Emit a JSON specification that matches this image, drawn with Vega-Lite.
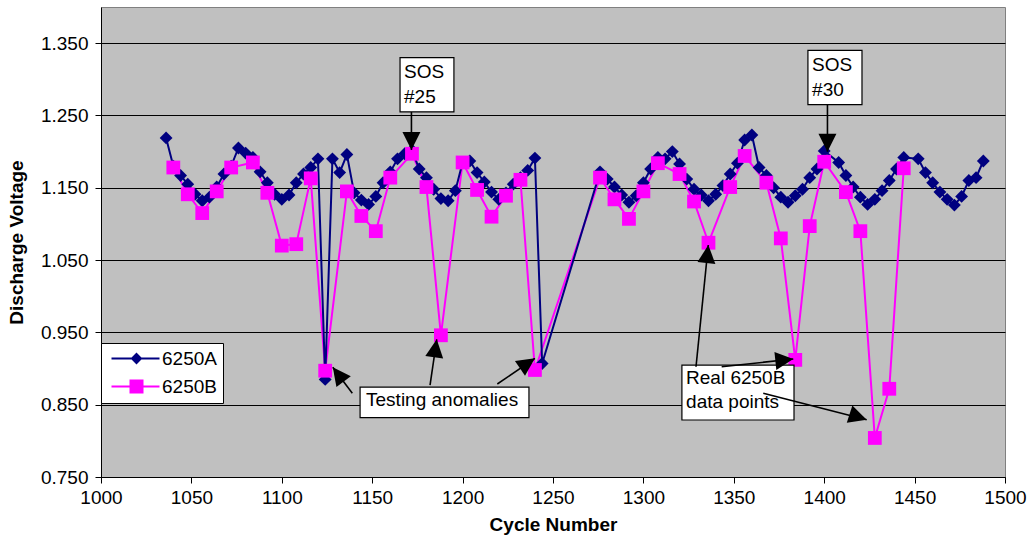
{
  "$schema": "https://vega.github.io/schema/vega-lite/v6.json",
  "width": 904,
  "height": 470,
  "autosize": {"type": "none"},
  "padding": {"left": 101, "top": 7, "right": 25, "bottom": 65},
  "background": "white",
  "config": {
    "font": "Liberation Sans",
    "view": {"fill": "#C0C0C0", "stroke": "#808080", "strokeWidth": 1},
    "axis": {
      "labelFont": "Liberation Sans",
      "titleFont": "Liberation Sans",
      "labelColor": "black",
      "titleColor": "black",
      "domainColor": "black",
      "tickColor": "black",
      "labelFontSize": 19,
      "titleFontSize": 19,
      "titleFontWeight": "bold",
      "tickSize": 6,
      "domainWidth": 1,
      "tickWidth": 1,
      "labelFlush": false
    }
  },
  "datasets": {
    "cells": [
      {"cycle": 1036, "series": "6250A", "voltage": 1.219},
      {"cycle": 1040, "series": "6250A", "voltage": 1.180},
      {"cycle": 1044, "series": "6250A", "voltage": 1.167},
      {"cycle": 1048, "series": "6250A", "voltage": 1.155},
      {"cycle": 1052, "series": "6250A", "voltage": 1.141},
      {"cycle": 1056, "series": "6250A", "voltage": 1.132},
      {"cycle": 1060, "series": "6250A", "voltage": 1.137},
      {"cycle": 1064, "series": "6250A", "voltage": 1.151},
      {"cycle": 1068, "series": "6250A", "voltage": 1.169},
      {"cycle": 1072, "series": "6250A", "voltage": 1.180},
      {"cycle": 1076, "series": "6250A", "voltage": 1.205},
      {"cycle": 1080, "series": "6250A", "voltage": 1.198},
      {"cycle": 1084, "series": "6250A", "voltage": 1.192},
      {"cycle": 1088, "series": "6250A", "voltage": 1.172},
      {"cycle": 1092, "series": "6250A", "voltage": 1.157},
      {"cycle": 1096, "series": "6250A", "voltage": 1.141},
      {"cycle": 1100, "series": "6250A", "voltage": 1.134},
      {"cycle": 1104, "series": "6250A", "voltage": 1.140},
      {"cycle": 1108, "series": "6250A", "voltage": 1.157},
      {"cycle": 1112, "series": "6250A", "voltage": 1.169},
      {"cycle": 1116, "series": "6250A", "voltage": 1.178},
      {"cycle": 1120, "series": "6250A", "voltage": 1.190},
      {"cycle": 1124, "series": "6250A", "voltage": 0.885},
      {"cycle": 1128, "series": "6250A", "voltage": 1.190},
      {"cycle": 1132, "series": "6250A", "voltage": 1.171},
      {"cycle": 1136, "series": "6250A", "voltage": 1.196},
      {"cycle": 1140, "series": "6250A", "voltage": 1.143},
      {"cycle": 1144, "series": "6250A", "voltage": 1.133},
      {"cycle": 1148, "series": "6250A", "voltage": 1.127},
      {"cycle": 1152, "series": "6250A", "voltage": 1.138},
      {"cycle": 1156, "series": "6250A", "voltage": 1.157},
      {"cycle": 1160, "series": "6250A", "voltage": 1.172},
      {"cycle": 1164, "series": "6250A", "voltage": 1.190},
      {"cycle": 1168, "series": "6250A", "voltage": 1.197},
      {"cycle": 1172, "series": "6250A", "voltage": 1.202},
      {"cycle": 1176, "series": "6250A", "voltage": 1.176},
      {"cycle": 1180, "series": "6250A", "voltage": 1.164},
      {"cycle": 1184, "series": "6250A", "voltage": 1.148},
      {"cycle": 1188, "series": "6250A", "voltage": 1.135},
      {"cycle": 1192, "series": "6250A", "voltage": 1.132},
      {"cycle": 1196, "series": "6250A", "voltage": 1.146},
      {"cycle": 1200, "series": "6250A", "voltage": 1.185},
      {"cycle": 1204, "series": "6250A", "voltage": 1.187},
      {"cycle": 1208, "series": "6250A", "voltage": 1.171},
      {"cycle": 1212, "series": "6250A", "voltage": 1.158},
      {"cycle": 1216, "series": "6250A", "voltage": 1.144},
      {"cycle": 1220, "series": "6250A", "voltage": 1.134},
      {"cycle": 1224, "series": "6250A", "voltage": 1.143},
      {"cycle": 1228, "series": "6250A", "voltage": 1.155},
      {"cycle": 1232, "series": "6250A", "voltage": 1.164},
      {"cycle": 1236, "series": "6250A", "voltage": 1.174},
      {"cycle": 1240, "series": "6250A", "voltage": 1.191},
      {"cycle": 1244, "series": "6250A", "voltage": 0.907},
      {"cycle": 1276, "series": "6250A", "voltage": 1.172},
      {"cycle": 1280, "series": "6250A", "voltage": 1.162},
      {"cycle": 1284, "series": "6250A", "voltage": 1.151},
      {"cycle": 1288, "series": "6250A", "voltage": 1.140},
      {"cycle": 1292, "series": "6250A", "voltage": 1.130},
      {"cycle": 1296, "series": "6250A", "voltage": 1.139},
      {"cycle": 1300, "series": "6250A", "voltage": 1.157},
      {"cycle": 1304, "series": "6250A", "voltage": 1.176},
      {"cycle": 1308, "series": "6250A", "voltage": 1.192},
      {"cycle": 1312, "series": "6250A", "voltage": 1.190},
      {"cycle": 1316, "series": "6250A", "voltage": 1.200},
      {"cycle": 1320, "series": "6250A", "voltage": 1.183},
      {"cycle": 1324, "series": "6250A", "voltage": 1.162},
      {"cycle": 1328, "series": "6250A", "voltage": 1.148},
      {"cycle": 1332, "series": "6250A", "voltage": 1.140},
      {"cycle": 1336, "series": "6250A", "voltage": 1.132},
      {"cycle": 1340, "series": "6250A", "voltage": 1.141},
      {"cycle": 1344, "series": "6250A", "voltage": 1.153},
      {"cycle": 1348, "series": "6250A", "voltage": 1.169},
      {"cycle": 1352, "series": "6250A", "voltage": 1.184},
      {"cycle": 1356, "series": "6250A", "voltage": 1.216},
      {"cycle": 1360, "series": "6250A", "voltage": 1.223},
      {"cycle": 1364, "series": "6250A", "voltage": 1.178},
      {"cycle": 1368, "series": "6250A", "voltage": 1.167},
      {"cycle": 1372, "series": "6250A", "voltage": 1.150},
      {"cycle": 1376, "series": "6250A", "voltage": 1.137},
      {"cycle": 1380, "series": "6250A", "voltage": 1.130},
      {"cycle": 1384, "series": "6250A", "voltage": 1.139},
      {"cycle": 1388, "series": "6250A", "voltage": 1.148},
      {"cycle": 1392, "series": "6250A", "voltage": 1.164},
      {"cycle": 1396, "series": "6250A", "voltage": 1.176},
      {"cycle": 1400, "series": "6250A", "voltage": 1.201},
      {"cycle": 1408, "series": "6250A", "voltage": 1.185},
      {"cycle": 1412, "series": "6250A", "voltage": 1.167},
      {"cycle": 1416, "series": "6250A", "voltage": 1.151},
      {"cycle": 1420, "series": "6250A", "voltage": 1.137},
      {"cycle": 1424, "series": "6250A", "voltage": 1.127},
      {"cycle": 1428, "series": "6250A", "voltage": 1.134},
      {"cycle": 1432, "series": "6250A", "voltage": 1.146},
      {"cycle": 1436, "series": "6250A", "voltage": 1.160},
      {"cycle": 1440, "series": "6250A", "voltage": 1.176},
      {"cycle": 1444, "series": "6250A", "voltage": 1.192},
      {"cycle": 1452, "series": "6250A", "voltage": 1.190},
      {"cycle": 1456, "series": "6250A", "voltage": 1.171},
      {"cycle": 1460, "series": "6250A", "voltage": 1.157},
      {"cycle": 1464, "series": "6250A", "voltage": 1.144},
      {"cycle": 1468, "series": "6250A", "voltage": 1.134},
      {"cycle": 1472, "series": "6250A", "voltage": 1.126},
      {"cycle": 1476, "series": "6250A", "voltage": 1.138},
      {"cycle": 1480, "series": "6250A", "voltage": 1.160},
      {"cycle": 1484, "series": "6250A", "voltage": 1.164},
      {"cycle": 1488, "series": "6250A", "voltage": 1.187},
      {"cycle": 1040, "series": "6250B", "voltage": 1.178},
      {"cycle": 1048, "series": "6250B", "voltage": 1.141},
      {"cycle": 1056, "series": "6250B", "voltage": 1.115},
      {"cycle": 1064, "series": "6250B", "voltage": 1.145},
      {"cycle": 1072, "series": "6250B", "voltage": 1.178},
      {"cycle": 1084, "series": "6250B", "voltage": 1.185},
      {"cycle": 1092, "series": "6250B", "voltage": 1.143},
      {"cycle": 1100, "series": "6250B", "voltage": 1.070},
      {"cycle": 1108, "series": "6250B", "voltage": 1.072},
      {"cycle": 1116, "series": "6250B", "voltage": 1.163},
      {"cycle": 1124, "series": "6250B", "voltage": 0.897},
      {"cycle": 1136, "series": "6250B", "voltage": 1.145},
      {"cycle": 1144, "series": "6250B", "voltage": 1.111},
      {"cycle": 1152, "series": "6250B", "voltage": 1.090},
      {"cycle": 1160, "series": "6250B", "voltage": 1.164},
      {"cycle": 1172, "series": "6250B", "voltage": 1.197},
      {"cycle": 1180, "series": "6250B", "voltage": 1.151},
      {"cycle": 1188, "series": "6250B", "voltage": 0.946},
      {"cycle": 1200, "series": "6250B", "voltage": 1.185},
      {"cycle": 1208, "series": "6250B", "voltage": 1.147},
      {"cycle": 1216, "series": "6250B", "voltage": 1.110},
      {"cycle": 1224, "series": "6250B", "voltage": 1.139},
      {"cycle": 1232, "series": "6250B", "voltage": 1.161},
      {"cycle": 1240, "series": "6250B", "voltage": 0.898},
      {"cycle": 1276, "series": "6250B", "voltage": 1.164},
      {"cycle": 1284, "series": "6250B", "voltage": 1.134},
      {"cycle": 1292, "series": "6250B", "voltage": 1.107},
      {"cycle": 1300, "series": "6250B", "voltage": 1.145},
      {"cycle": 1308, "series": "6250B", "voltage": 1.184},
      {"cycle": 1320, "series": "6250B", "voltage": 1.169},
      {"cycle": 1328, "series": "6250B", "voltage": 1.131},
      {"cycle": 1336, "series": "6250B", "voltage": 1.074},
      {"cycle": 1348, "series": "6250B", "voltage": 1.151},
      {"cycle": 1356, "series": "6250B", "voltage": 1.194},
      {"cycle": 1368, "series": "6250B", "voltage": 1.157},
      {"cycle": 1376, "series": "6250B", "voltage": 1.080},
      {"cycle": 1384, "series": "6250B", "voltage": 0.912},
      {"cycle": 1392, "series": "6250B", "voltage": 1.097},
      {"cycle": 1400, "series": "6250B", "voltage": 1.186},
      {"cycle": 1412, "series": "6250B", "voltage": 1.144},
      {"cycle": 1420, "series": "6250B", "voltage": 1.090},
      {"cycle": 1428, "series": "6250B", "voltage": 0.804},
      {"cycle": 1436, "series": "6250B", "voltage": 0.872},
      {"cycle": 1444, "series": "6250B", "voltage": 1.177}
    ],
    "boxes": [
      {"name": "sos25", "x": 1165.4, "x2": 1195.2, "y": 1.330, "y2": 1.255},
      {"name": "sos30", "x": 1391.0, "x2": 1420.9, "y": 1.340, "y2": 1.265},
      {"name": "testing", "x": 1143.3, "x2": 1236.7, "y": 0.8744, "y2": 0.8322},
      {"name": "real", "x": 1321.3, "x2": 1383.3, "y": 0.9048, "y2": 0.8288}
    ],
    "notes": [
      {"x": 1167.6, "y": 1.3101, "label": "SOS"},
      {"x": 1167.6, "y": 1.2755, "label": "#25"},
      {"x": 1393.3, "y": 1.3198, "label": "SOS"},
      {"x": 1393.3, "y": 1.2852, "label": "#30"},
      {"x": 1146.6, "y": 0.8564, "label": "Testing anomalies"},
      {"x": 1323.6, "y": 0.8869, "label": "Real 6250B"},
      {"x": 1323.6, "y": 0.8544, "label": "data points"}
    ],
    "arrows": [
      {"x": 1171.7, "y": 1.2548, "x2": 1171.7, "y2": 1.2022, "heading": 180},
      {"x": 1401.8, "y": 1.2645, "x2": 1401.8, "y2": 1.1999, "heading": 180},
      {"x": 1139.0, "y": 0.8657, "x2": 1128.2, "y2": 0.9017, "heading": 323},
      {"x": 1182.0, "y": 0.8772, "x2": 1185.7, "y2": 0.9404, "heading": 8},
      {"x": 1219.2, "y": 0.8786, "x2": 1240.0, "y2": 0.9141, "heading": 56},
      {"x": 1329.1, "y": 0.9025, "x2": 1335.9, "y2": 1.0708, "heading": 6},
      {"x": 1343.3, "y": 0.9025, "x2": 1382.9, "y2": 0.9131, "heading": 84},
      {"x": 1366.3, "y": 0.8657, "x2": 1423.5, "y2": 0.8292, "heading": 108}
    ]
  },
  "encoding": {
    "x": {
      "field": "cycle",
      "type": "quantitative",
      "scale": {"domain": [1000, 1500], "nice": false, "zero": false},
      "axis": {
        "values": [1000, 1050, 1100, 1150, 1200, 1250, 1300, 1350, 1400, 1450, 1500],
        "format": "d",
        "grid": false,
        "title": "Cycle Number",
        "labelPadding": 5,
        "titlePadding": 8
      }
    },
    "y": {
      "field": "voltage",
      "type": "quantitative",
      "scale": {"domain": [0.75, 1.4], "nice": false, "zero": false},
      "axis": {
        "values": [0.75, 0.85, 0.95, 1.05, 1.15, 1.25, 1.35],
        "format": ".3f",
        "grid": true,
        "gridColor": "black",
        "gridWidth": 1,
        "gridOpacity": 1,
        "title": "Discharge Voltage",
        "labelPadding": 7,
        "titlePadding": 14
      }
    }
  },
  "layer": [
    {
      "data": {"name": "cells"},
      "transform": [{"filter": "datum.series === '6250B'"}],
      "mark": {"type": "line", "strokeWidth": 2},
      "encoding": {
        "color": {
          "field": "series",
          "type": "nominal",
          "scale": {"domain": ["6250A", "6250B"], "range": ["#000080", "#FF00FF"]},
          "legend": {
            "title": null,
            "orient": "none",
            "legendX": 0,
            "legendY": 336,
            "fillColor": "white",
            "strokeColor": "black",
            "padding": 6,
            "rowPadding": 7,
            "symbolSize": 100,
            "labelFontSize": 19,
            "labelFont": "Liberation Sans",
            "labelColor": "black",
            "labelOffset": 36,
            "encode": {
              "symbols": {
                "update": {
                  "shape": {"signal": "datum.value === '6250A' ? 'M-1,0H8.6M4,-0.9L4.9,0L4,0.9L3.1,0Z' : 'M-1,0H8.6M2.8,-1.2H5.2V1.2H2.8Z'"},
                  "fill": {"signal": "datum.value === '6250A' ? '#000080' : '#FF00FF'"},
                  "stroke": {"signal": "datum.value === '6250A' ? '#000080' : '#FF00FF'"},
                  "strokeWidth": {"value": 2},
                  "size": {"value": 100},
                  "opacity": {"value": 1}
                }
              }
            }
          }
        }
      }
    },
    {
      "data": {"name": "cells"},
      "transform": [{"filter": "datum.series === '6250A'"}],
      "mark": {"type": "line", "strokeWidth": 2},
      "encoding": {
        "color": {"field": "series", "type": "nominal"}
      }
    },
    {
      "data": {"name": "cells"},
      "transform": [{"filter": "datum.series === '6250A'"}],
      "mark": {"type": "point", "shape": "diamond", "filled": true, "size": 165, "opacity": 1},
      "encoding": {
        "color": {"field": "series", "type": "nominal"}
      }
    },
    {
      "data": {"name": "cells"},
      "transform": [{"filter": "datum.series === '6250B'"}],
      "mark": {"type": "point", "shape": "square", "filled": true, "size": 190, "opacity": 1},
      "encoding": {
        "color": {"field": "series", "type": "nominal"}
      }
    },
    {
      "data": {"name": "boxes"},
      "mark": {"type": "rect", "fill": "white", "stroke": "black", "strokeWidth": 1.2},
      "encoding": {
        "x": {"field": "x", "type": "quantitative"},
        "x2": {"field": "x2"},
        "y": {"field": "y", "type": "quantitative"},
        "y2": {"field": "y2"}
      }
    },
    {
      "data": {"name": "notes"},
      "mark": {"type": "text", "align": "left", "baseline": "middle", "fontSize": 19, "font": "Liberation Sans", "color": "black"},
      "encoding": {
        "x": {"field": "x", "type": "quantitative"},
        "y": {"field": "y", "type": "quantitative"},
        "text": {"field": "label"}
      }
    },
    {
      "data": {"name": "arrows"},
      "mark": {"type": "rule", "color": "black", "strokeWidth": 1.6},
      "encoding": {
        "x": {"field": "x", "type": "quantitative"},
        "y": {"field": "y", "type": "quantitative"},
        "x2": {"field": "x2"},
        "y2": {"field": "y2"}
      }
    },
    {
      "data": {"name": "arrows"},
      "mark": {"type": "point", "shape": "M0,0L-1,2L1,2Z", "filled": true, "size": 324, "color": "black", "opacity": 1},
      "encoding": {
        "x": {"field": "x2", "type": "quantitative"},
        "y": {"field": "y2", "type": "quantitative"},
        "angle": {"field": "heading", "type": "quantitative", "scale": null}
      }
    }
  ]
}
